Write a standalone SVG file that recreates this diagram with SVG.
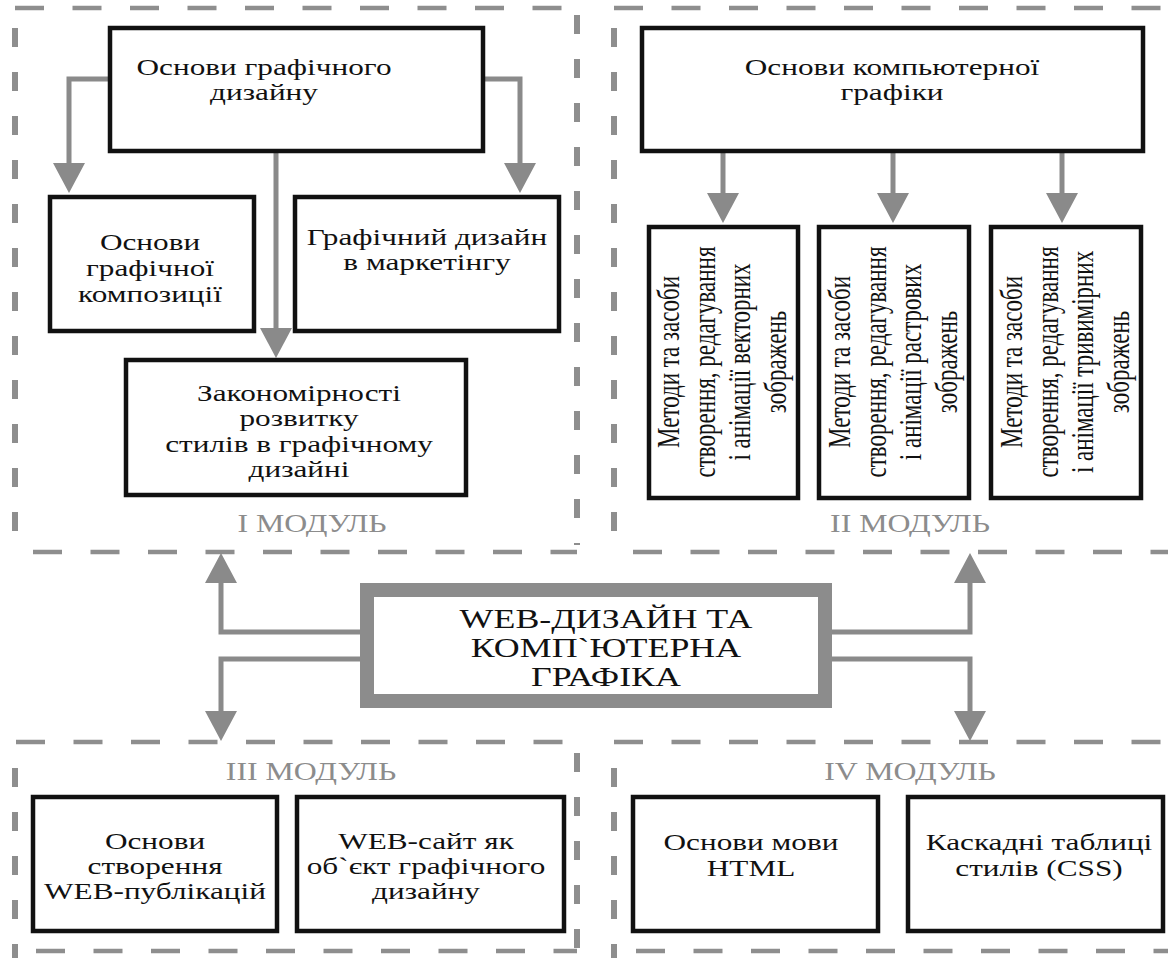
<svg xmlns="http://www.w3.org/2000/svg" width="1168" height="958" viewBox="0 0 1168 958">
<defs>
<marker id="ah" markerUnits="userSpaceOnUse" viewBox="0 0 30 32" markerWidth="30" markerHeight="32" refX="2" refY="16" orient="auto"><path d="M0,0 L30,16 L0,32 Z" fill="#8a8a8a"/></marker>
<style>
.hd{stroke:#8e8e8e;stroke-width:4.5;stroke-dasharray:29 28.5;fill:none}
.vd{stroke:#8e8e8e;stroke-width:6;stroke-dasharray:19 25;fill:none}
.box{fill:#fff;stroke:#111;stroke-width:4.5}
.t{font-family:"Liberation Serif","Times New Roman",serif;font-size:23.5px;fill:#111;text-anchor:middle}
.v{font-size:23px}
.c{font-size:27px}
.m{font-family:"Liberation Serif","Times New Roman",serif;font-size:24.5px;fill:#8c8c8c;text-anchor:middle}
.cn{fill:none;stroke:#8a8a8a;stroke-width:5;stroke-linejoin:miter;marker-end:url(#ah)}
.frame{fill:#fff;stroke:#8c8c8c;stroke-width:14}
</style>
</defs>
<rect width="1168" height="958" fill="#fff"/>

<g id="panels">
<line class="hd" x1="15" y1="8" x2="577" y2="8"/>
<line class="hd" x1="33" y1="552" x2="577" y2="552"/>
<line class="vd" x1="15" y1="28" x2="15" y2="545"/>
<line class="vd" x1="577" y1="15" x2="577" y2="545"/>
<line class="hd" x1="614" y1="8" x2="1168" y2="8"/>
<line class="hd" x1="633" y1="552" x2="1168" y2="552"/>
<line class="vd" x1="614" y1="28" x2="614" y2="545"/>
<line class="hd" x1="16" y1="742" x2="577" y2="742"/>
<line class="hd" x1="36" y1="951" x2="577" y2="951"/>
<line class="vd" x1="15" y1="768" x2="15" y2="958"/>
<line class="vd" x1="577" y1="753" x2="577" y2="958"/>
<line class="hd" x1="614" y1="742" x2="1168" y2="742"/>
<line class="hd" x1="636" y1="951" x2="1168" y2="951"/>
<line class="vd" x1="614" y1="768" x2="614" y2="958"/>
<text class="m" transform="translate(312,532) scale(1.3,1)">I  МОДУЛЬ</text>
<text class="m" transform="translate(910,532) scale(1.3,1)">II МОДУЛЬ</text>
<text class="m" transform="translate(311,780) scale(1.3,1)">III МОДУЛЬ</text>
<text class="m" transform="translate(910,780) scale(1.3,1)">IV МОДУЛЬ</text>
</g>

<g id="connectors">
<path class="cn" d="M108,79 H69 V165"/>
<path class="cn" d="M485,79 H520 V165"/>
<path class="cn" d="M276,153 V330"/>
<path class="cn" d="M723,153 V195"/>
<path class="cn" d="M893,153 V195"/>
<path class="cn" d="M1062,153 V195"/>
<path class="cn" d="M360,632 H221 V581"/>
<path class="cn" d="M360,659 H221 V713"/>
<path class="cn" d="M832,632 H970 V581"/>
<path class="cn" d="M832,659 H970 V713"/>
</g>

<g id="node-osnovy-dyzainu">
<rect class="box" x="110" y="28" width="373" height="123"/>
<text class="t" transform="translate(264,75) scale(1.33,1)">Основи графічного</text>
<text class="t" transform="translate(264,100) scale(1.33,1)">дизайну</text>
</g>
<g id="node-kompozytsii">
<rect class="box" x="50" y="197" width="204" height="134"/>
<text class="t" transform="translate(150,250) scale(1.33,1)">Основи</text>
<text class="t" transform="translate(150,276) scale(1.33,1)">графічної</text>
<text class="t" transform="translate(150,302) scale(1.33,1)">композиції</text>
</g>
<g id="node-marketynh">
<rect class="box" x="295" y="197" width="264" height="134"/>
<text class="t" transform="translate(427,245) scale(1.33,1)">Графічний дизайн</text>
<text class="t" transform="translate(427,270) scale(1.33,1)">в маркетінгу</text>
</g>
<g id="node-zakonomirnosti">
<rect class="box" x="126" y="360" width="340" height="135"/>
<text class="t" transform="translate(299,401) scale(1.33,1)">Закономірності</text>
<text class="t" transform="translate(299,426) scale(1.33,1)">розвитку</text>
<text class="t" transform="translate(299,452) scale(1.33,1)">стилів в графічному</text>
<text class="t" transform="translate(299,477) scale(1.33,1)">дизайні</text>
</g>

<g id="node-kompiuterna-grafika">
<rect class="box" x="642" y="28" width="501" height="123"/>
<text class="t" transform="translate(892,75) scale(1.33,1)">Основи компьютерної</text>
<text class="t" transform="translate(892,100) scale(1.33,1)">графіки</text>
</g>
<g id="node-vektorni">
<rect class="box" x="649" y="227" width="149" height="271"/>
<text class="t v" transform="translate(679,362) rotate(-90) scale(1,1.36)">Методи та засоби</text>
<text class="t v" transform="translate(715,362) rotate(-90) scale(1,1.36)">створення, редагування</text>
<text class="t v" transform="translate(750,362) rotate(-90) scale(1,1.36)">і анімації векторних</text>
<text class="t v" transform="translate(786,362) rotate(-90) scale(1,1.36)">зображень</text>
</g>
<g id="node-rastrovi">
<rect class="box" x="819" y="227" width="150" height="271"/>
<text class="t v" transform="translate(850,362) rotate(-90) scale(1,1.36)">Методи та засоби</text>
<text class="t v" transform="translate(886,362) rotate(-90) scale(1,1.36)">створення, редагування</text>
<text class="t v" transform="translate(921,362) rotate(-90) scale(1,1.36)">і анімації растрових</text>
<text class="t v" transform="translate(957,362) rotate(-90) scale(1,1.36)">зображень</text>
</g>
<g id="node-tryvymirni">
<rect class="box" x="991" y="227" width="150" height="271"/>
<text class="t v" transform="translate(1022,362) rotate(-90) scale(1,1.36)">Методи та засоби</text>
<text class="t v" transform="translate(1058,362) rotate(-90) scale(1,1.36)">створення, редагування</text>
<text class="t v" transform="translate(1093,362) rotate(-90) scale(1,1.36)">і анімації тривимірних</text>
<text class="t v" transform="translate(1129,362) rotate(-90) scale(1,1.36)">зображень</text>
</g>

<g id="node-center">
<rect class="frame" x="367" y="590" width="458" height="111"/>
<text class="t c" transform="translate(606,628) scale(1.33,1)">WEB-ДИЗАЙН ТА</text>
<text class="t c" transform="translate(606,657) scale(1.33,1)">КОМП`ЮТЕРНА</text>
<text class="t c" transform="translate(606,686) scale(1.33,1)">ГРАФІКА</text>
</g>

<g id="node-web-publikatsii">
<rect class="box" x="33" y="797" width="244" height="134"/>
<text class="t" transform="translate(155,849) scale(1.33,1)">Основи</text>
<text class="t" transform="translate(155,874) scale(1.33,1)">створення</text>
<text class="t" transform="translate(155,899) scale(1.33,1)">WEB-публікацій</text>
</g>
<g id="node-web-sait">
<rect class="box" x="297" y="797" width="267" height="134"/>
<text class="t" transform="translate(426,849) scale(1.33,1)">WEB-сайт як</text>
<text class="t" transform="translate(426,874) scale(1.33,1)">об`єкт графічного</text>
<text class="t" transform="translate(426,899) scale(1.33,1)">дизайну</text>
</g>
<g id="node-html">
<rect class="box" x="633" y="797" width="245" height="134"/>
<text class="t" transform="translate(751,850) scale(1.33,1)">Основи мови</text>
<text class="t" transform="translate(751,876) scale(1.33,1)">HTML</text>
</g>
<g id="node-css">
<rect class="box" x="908" y="797" width="255" height="134"/>
<text class="t" transform="translate(1039,850) scale(1.33,1)">Каскадні таблиці</text>
<text class="t" transform="translate(1039,876) scale(1.33,1)">стилів (CSS)</text>
</g>
</svg>
